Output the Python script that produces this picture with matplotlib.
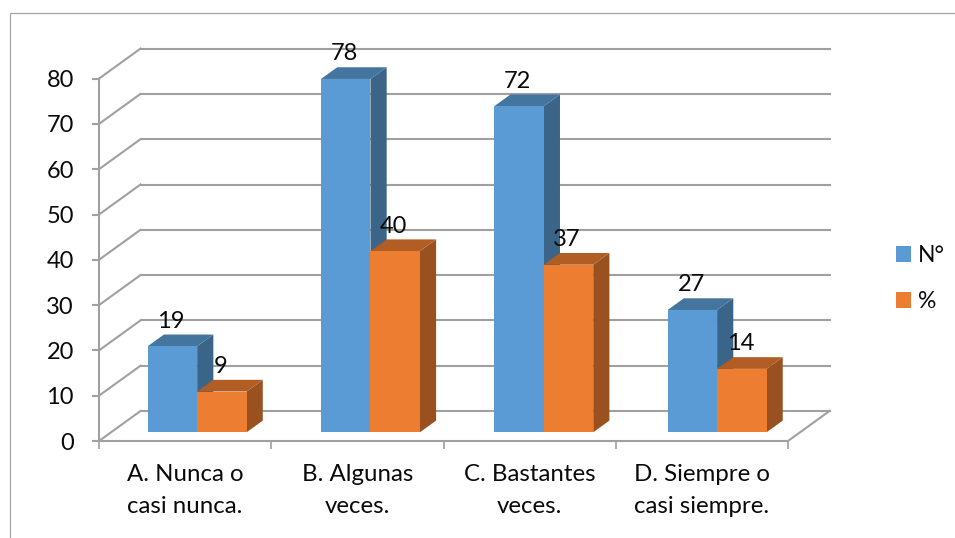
import matplotlib
matplotlib.use("Agg")
import matplotlib.pyplot as plt
from matplotlib.lines import Line2D
from matplotlib.patches import Patch, Polygon

plt.rcParams['font.family'] = ['Lato', 'DejaVu Sans']

categories = ["A. Nunca o\ncasi nunca.", "B. Algunas\nveces.", "C. Bastantes\nveces.", "D. Siempre o\ncasi siempre."]
series_names = ["N°", "%"]
count_values = [19, 78, 72, 27]
percent_values = [9, 40, 37, 14]
y_ticks = [0, 10, 20, 30, 40, 50, 60, 70, 80]

W, H = 955, 538
GRID = "#a0a0a0"
INK = "#0a0a0a"
BLUE = ("#5b9bd5", "#44759f", "#3a6488")
ORANGE = ("#ed7d31", "#b25d24", "#9a5120")

# Shift of the back wall relative to the front plane, in data units
DEPTH_X = 41.5 / 172.25
DEPTH_Y = 30 / 4.53
BAR_WIDTH = 0.287
BAR_NEAR = 0.29
BAR_FAR = 0.68
GROUP_PITCH = 1.0062


def depth_point(x, y, d):
    return (x + d * DEPTH_X, y + d * DEPTH_Y)


def draw_bar(ax, left, value, colours):
    front, top, side = colours
    right = left + BAR_WIDTH
    n, f = BAR_NEAR, BAR_FAR
    ax.add_patch(Polygon([depth_point(right, 0, n), depth_point(right, 0, f),
                          depth_point(right, value, f), depth_point(right, value, n)],
                         closed=True, fc=side, ec="none", zorder=4, clip_on=False))
    ax.add_patch(Polygon([depth_point(left, value, n), depth_point(right, value, n),
                          depth_point(right, value, f), depth_point(left, value, f)],
                         closed=True, fc=top, ec="none", zorder=4, clip_on=False))
    ax.add_patch(Polygon([depth_point(left, 0, n), depth_point(right, 0, n),
                          depth_point(right, value, n), depth_point(left, value, n)],
                         closed=True, fc=front, ec="none", zorder=4, clip_on=False))


fig = plt.figure(figsize=(W / 100, H / 100), dpi=100)
ax = fig.add_axes([99 / W, (H - 441) / H, 689 / W, 362.4 / H])
ax.patch.set_alpha(0)
ax.set_xlim(0, 4)
ax.set_ylim(0, 80)

# Outer chart frame
fig.add_artist(Line2D([10 / W, 10 / W, 1], [0, 1 - 13 / H, 1 - 13 / H], color="#a6a6a6", lw=0.9))

# Back wall gridlines, left wall diagonals and floor
for v in y_ticks:
    bx, by = depth_point(0, v, 1)
    ax.plot([0, bx], [v, by], color=GRID, lw=1.5, clip_on=False, zorder=2)
    ax.plot([bx, 4 + DEPTH_X], [by, by], color=GRID, lw=1.5, clip_on=False, zorder=2)
ax.plot([4, 4 + DEPTH_X], [0, DEPTH_Y], color=GRID, lw=1.5, clip_on=False, zorder=2)

for side in ("top", "right"):
    ax.spines[side].set_visible(False)
for side in ("left", "bottom"):
    ax.spines[side].set_color(GRID)
    ax.spines[side].set_linewidth(1.5)

ax.set_yticks(y_ticks)
ax.set_xticks(range(5))
ax.set_xticklabels([])
ax.set_xticks([i + 0.5 for i in range(4)], minor=True)
ax.set_xticklabels(categories, minor=True, fontsize=17.3, linespacing=1.68, color=INK)
ax.tick_params(axis="x", which="major", length=6, width=1.2, color=GRID)
ax.tick_params(axis="x", which="minor", length=0, pad=16.5)
ax.tick_params(axis="y", length=5, width=1.5, color=GRID, labelsize=17, pad=13, labelcolor=INK)

# Paired bars with their value labels
for i, (count, pct) in enumerate(zip(count_values, percent_values)):
    left = i * GROUP_PITCH + 0.5 - BAR_WIDTH
    draw_bar(ax, left, count, BLUE)
    draw_bar(ax, left + BAR_WIDTH, pct, ORANGE)
    for x0, val in ((left, count), (left + BAR_WIDTH, pct)):
        px, py = depth_point(x0 + BAR_WIDTH / 2, val, BAR_NEAR)
        ax.annotate(str(val), (px, py), xytext=(-1, 18), textcoords="offset points",
                    ha="center", va="center", fontsize=17, color=INK,
                    zorder=6, annotation_clip=False)

handles = [Patch(fc=BLUE[0], ec="none"), Patch(fc=ORANGE[0], ec="none")]
fig.legend(handles, series_names, loc="center left", bbox_to_anchor=(896 / W, 1 - 278.5 / H),
           frameon=False, fontsize=16.5, handlelength=0.66, handleheight=0.66,
           handletextpad=0.28, labelspacing=1.1, borderpad=0, borderaxespad=0, labelcolor=INK)

fig.savefig("out.png", dpi=100)
